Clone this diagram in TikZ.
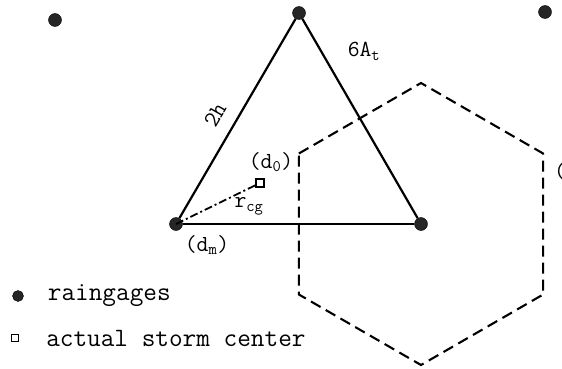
\documentclass[tikz,border=0pt]{standalone}
\usepackage{fontspec}
\newfontfamily\typew{Latin Modern Mono}
\usetikzlibrary{calc,positioning}
\tikzset{
  gage/.style={circle, fill=black!85, draw=black, inner sep=0pt, minimum size=13pt},
  center/.style={rectangle, draw=black, line width=1.3pt, fill=white, inner sep=0pt, minimum size=8pt},
  kante/.style={draw=black, line width=2.2pt},
  zelle/.style={draw=black, line width=2.1pt, dash pattern=on 11pt off 6pt},
  strahl/.style={draw=black, line width=1.8pt, dash pattern=on 8pt off 3pt on 2pt off 3pt},
  lbl/.style={font=\typew\fontsize{23}{25}\selectfont, inner sep=0pt},
  legende/.style={font=\typew\fontsize{26.5}{28}\selectfont, inner sep=0pt, anchor=west}
}

\begin{document}
\begin{tikzpicture}[x=1pt, y=-1pt]
\useasboundingbox (0,0) rectangle (562,369);

\node[gage] (gtl) at (55,20) {};
\node[gage] (gtop) at (299,13) {};
\node[gage] (gtr) at (545,12) {};
\node[gage] (gl) at (176,224) {};
\node[gage] (gr) at (421,224) {};

\draw[kante] (gl) -- (gtop);
\draw[kante] (gtop) -- (gr);
\draw[kante] (gl) -- (gr);

\foreach \a [count=\i] in {210,270,330,30,90,150}
  \coordinate (h\i) at ($(gr.center)+(\a:141)$);
\draw[zelle] (h1) -- (h2) -- (h3) -- (h4) -- (h5) -- (h6) -- cycle;

\node[center] (storm) at (260,183) {};
\draw[strahl] (gl.center) -- (storm);

\node[lbl, rotate=60] (l2h) at (215,115) {2h};
\node[lbl] (l6a) at (364,51) {6A\textsubscript{t}};
\node[lbl] (ld0) at (271,162) {(d\textsubscript{0})};
\node[lbl] (lrcg) at (249,206) {r\textsubscript{cg}};
\node[lbl] (ldm) at (207,245) {(d\textsubscript{m})};
\node[lbl, anchor=west] (lcut) at (554,171) {(};

\node[gage, minimum size=11pt] (kgage) at (18,296) {};
\node[legende, right=24pt of kgage] (tgage) {raingages};
\node[center, minimum size=7pt, line width=1.1pt] (kstorm) at (15,338) {};
\node[legende, right=27pt of kstorm] (tstorm) {actual storm center};

\end{tikzpicture}
\end{document}
